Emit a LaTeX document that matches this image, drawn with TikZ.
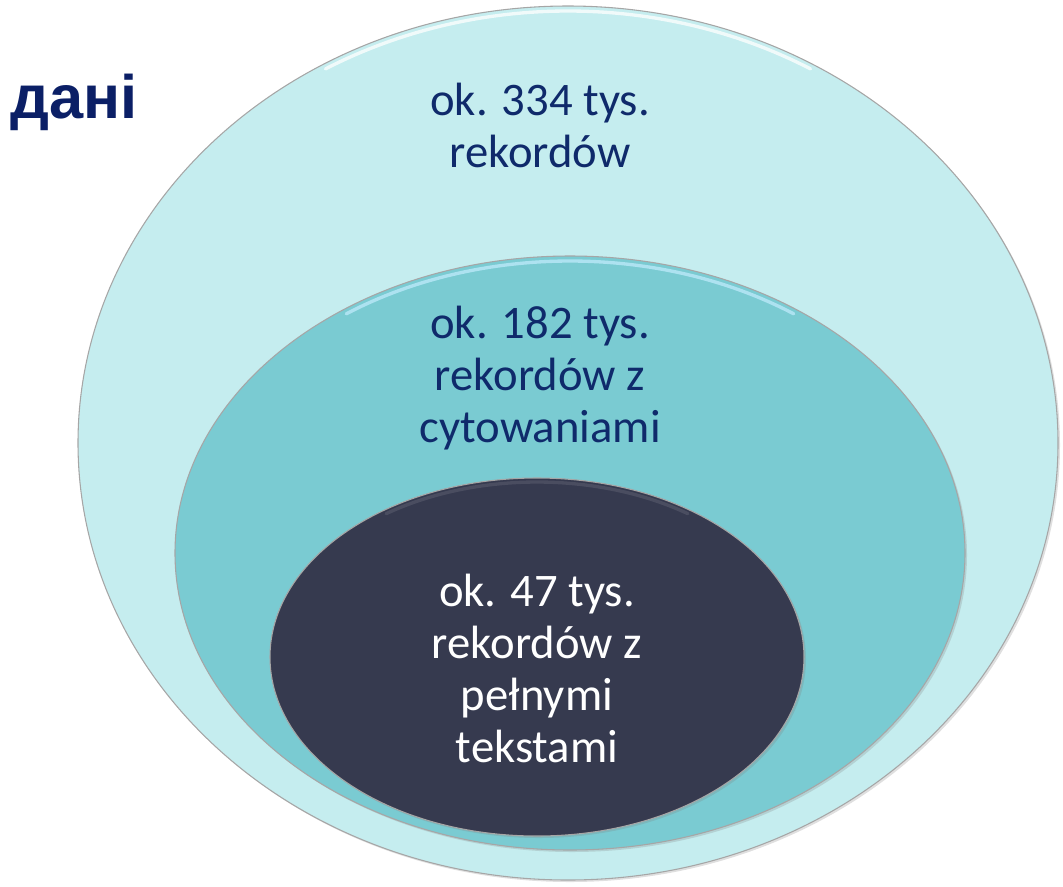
\documentclass[tikz,border=0pt]{standalone}
\usepackage{fontspec}
\setmainfont{Carlito}
\newfontfamily\headfont{Liberation Sans}
\usepackage{tikz}
\usetikzlibrary{calc,shadows}
\definecolor{outerfill}{HTML}{C5EDEF}
\definecolor{midfill}{HTML}{7ACBD2}
\definecolor{corefill}{HTML}{363A4F}
\definecolor{navytext}{HTML}{0F2A6B}
\definecolor{headnavy}{HTML}{0B1F66}
\tikzset{
  ring/.style={draw=black!35, line width=0.8pt, drop shadow={opacity=0.25, shadow xshift=1.5pt, shadow yshift=-1.5pt}},
  rim/.style={line width=2.5pt, line cap=round, opacity=0.75},
  ringtext/.style={align=center, font=\fontsize{35pt}{39pt}\selectfont, text=navytext, inner sep=0pt},
}

\begin{document}
\begin{tikzpicture}[x=0.75pt, y=-0.75pt]
		%%%%% START %%%%%
		\useasboundingbox (0, 0) rectangle (1063, 886);
		
		\node[anchor=base east, inner sep=0pt, text=headnavy, font=\headfont\bfseries\fontsize{46pt}{50pt}\selectfont] (head) at (138, 118) {дані};
		
		\draw[ring, fill=outerfill] (568, 443) ellipse (490 and 437);
		\draw[rim, white] ($(568, 443)+(240:485 and 432)$) arc (240:300:485 and 432);
		
		\draw[ring, fill=midfill] (570, 553) ellipse (395 and 297);
		\draw[rim, cyan!25] ($(570, 553)+(235:390 and 292)$) arc (235:305:390 and 292);
		
		\draw[ring, fill=corefill] (537, 657) ellipse (267 and 179);
		\draw[rim, corefill!80!white, opacity=0.5] ($(537, 657)+(235:263 and 175)$) arc (235:305:263 and 175);
		
		\node[ringtext] (outer) at (540, 125) {ok. 334 tys.\\rekordów};
		\node[ringtext] (middle) at (540, 378) {ok. 182 tys.\\rekordów z\\cytowaniami};
		\node[ringtext, text=white] (core) at (537, 668) {ok. 47 tys.\\rekordów z\\pełnymi\\tekstami};
		
		%%%%% END %%%%%
	\end{tikzpicture}
\end{document}
